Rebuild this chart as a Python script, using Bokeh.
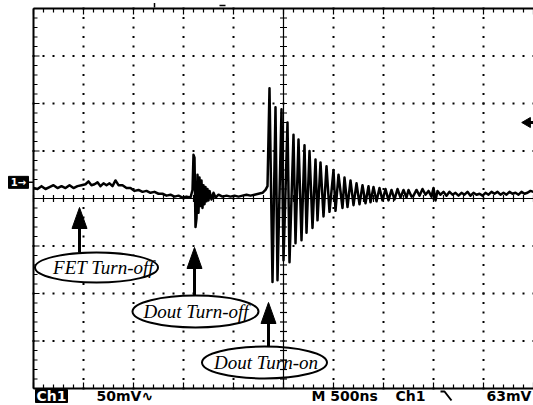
import numpy as np
from bokeh.plotting import figure
from bokeh.models import Range1d, Label
from bokeh.core.properties import value
from bokeh.embed import file_html
from bokeh.resources import INLINE

# Channel 1 capture: 500 ns/div, 50 mV/div, 10 x 8 divisions.
# Times in ns from the left edge of the screen, voltages in mV from screen centre.

# quiet stretch around the FET turn-off
pre_t = [0, 40, 80, 120, 160, 200, 240, 280, 320, 360,
         400, 440, 480, 520, 550, 580, 610, 640, 670, 700,
         730, 760, 790, 820, 850, 890, 930, 970, 1010, 1050,
         1090, 1130, 1170, 1210, 1250, 1290, 1330, 1370, 1410, 1450,
         1490, 1530, 1570]
pre_mv = [11, 10, 13, 10, 12, 14, 11, 13, 11, 14,
          11, 13, 14, 15, 18, 14, 15, 17, 13, 16,
          14, 16, 13, 19, 14, 14, 11, 11, 8, 9,
          7, 8, 6, 7, 5, 5, 3, 4, 2, 3,
          1, 2, 1]

# output diode turn-off spike and its short ringing
off_t = [1590, 1600, 1610, 1620, 1630, 1640, 1650, 1660, 1670, 1680,
         1690, 1700, 1710, 1720, 1730, 1740, 1750, 1760, 1780, 1800,
         1820, 1850, 1890, 1930, 1970, 2010, 2050, 2090, 2130, 2170,
         2210, 2250, 2290, 2320, 2340]
off_mv = [9, 46, 43, -30, -21, 25, -15, 22, -8, 19,
          -10, 14, -6, 12, -3, 10, -2, 8, -1, 6,
          1, 4, 2, 3, 2, 3, 2, 3, 4, 3,
          4, 5, 6, 9, 13]

# output diode turn-on: large decaying ringing
on_t = [2360, 2390, 2420, 2440, 2480, 2500, 2540, 2560, 2600, 2620,
        2650, 2680, 2710, 2730, 2760, 2790, 2820, 2840, 2870, 2900,
        2930, 2960, 3000, 3020, 3050, 3090, 3110, 3140, 3170, 3200,
        3230, 3260, 3290, 3320, 3350, 3370, 3400, 3430, 3460, 3490,
        3520, 3550, 3580, 3610, 3640, 3670, 3700, 3730, 3750, 3780]
on_mv = [116, -88, 96, -86, 94, -65, 80, -67, 67, -47,
         62, -44, 56, -36, 50, -31, 41, -23, 38, -19,
         34, -14, 30, -13, 25, -10, 22, -9, 19, -7,
         16, -6, 14, -5, 13, -4, 12, -3, 11, -2,
         10, -2, 9, -1, 10, 1, 9, 1, 9, 2]

# residual ripple to the end of the record
tail_t = [3800, 3830, 3860, 3890, 3920, 3950, 3980, 4000, 4020, 4040,
          4070, 4100, 4130, 4160, 4190, 4220, 4250, 4280, 4310, 4340,
          4370, 4400, 4430, 4460, 4490, 4520, 4550, 4580, 4610, 4640,
          4670, 4700, 4730, 4760, 4790, 4820, 4850, 4880, 4910, 4940,
          4970, 5000]
tail_mv = [3, 9, 3, 10, 4, 8, 2, 11, -2, 8,
           4, 7, 3, 7, 4, 6, 3, 6, 4, 7,
           3, 6, 4, 5, 3, 6, 4, 7, 5, 7,
           4, 6, 4, 7, 5, 6, 4, 7, 5, 6,
           8, 7]

# switching events marked on the trace
event_names = ["FET Turn-off", "Dout Turn-off", "Dout Turn-on"]
event_t = [460, 1610, 2350]

# scope readout
ch_label = "Ch1"
volts_div = "50mV\u223f"
time_div = "M 500ns"
trig_src = "Ch1"
trig_level = "63mV"
trig_level_mv = 63
ground_mv = 17

# ---- screen geometry -------------------------------------------------------
W, H = 533, 405
LEFT_PX, TOP_PX = 33, 8
NS_PER_DIV, MV_PER_DIV = 500, 50
DIV_X_PX, DIV_Y_PX = 50, 47.5
NS_PX = NS_PER_DIV / DIV_X_PX
MV_PX = MV_PER_DIV / DIV_Y_PX
T_END = 10 * NS_PER_DIV
V_TOP = 4 * MV_PER_DIV

x_lo = -LEFT_PX * NS_PX
x_hi = x_lo + W * NS_PX
y_hi = V_TOP + TOP_PX * MV_PX
y_lo = y_hi - H * MV_PX


def sx(px):
    return x_lo + px * NS_PX


def sy(py):
    return y_hi - py * MV_PX


p = figure(width=W, height=H, x_range=Range1d(x_lo, x_hi), y_range=Range1d(y_lo, y_hi),
           x_axis_type=None, y_axis_type=None, output_backend="svg",
           toolbar_location=None, min_border=0, outline_line_color=None,
           background_fill_color="white", border_fill_color="white")
p.grid.visible = False

ink = "black"

# graticule dots (every 1/5 division along each grid line)
dx, dy = [], []
for k in range(1, 10):
    if k == 5:
        continue
    for v in np.arange(-V_TOP, V_TOP + 1, MV_PER_DIV / 5):
        dx.append(k * NS_PER_DIV)
        dy.append(v)
for k in range(-3, 4):
    if k == 0:
        continue
    for t in np.arange(0, T_END + 1, NS_PER_DIV / 5):
        dx.append(t)
        dy.append(k * MV_PER_DIV)
p.scatter(dx, dy, marker="square", size=2, color=ink, line_width=0)

# screen border with inward ticks
p.line([0, 0], [-V_TOP, V_TOP], line_color=ink, line_width=2)
p.line([0, T_END + 50], [V_TOP, V_TOP], line_color=ink, line_width=2)
p.line([0, T_END + 50], [-V_TOP, -V_TOP], line_color=ink, line_width=2)

tx0, tx1, ty0, ty1 = [], [], [], []
for t in np.arange(0, T_END + 1, NS_PER_DIV / 5):
    ln = 6 if t % NS_PER_DIV == 0 else 4
    tx0 += [t, t]
    tx1 += [t, t]
    ty0 += [-V_TOP, V_TOP]
    ty1 += [-V_TOP + ln * MV_PX, V_TOP - ln * MV_PX]
for v in np.arange(-V_TOP, V_TOP + 1, MV_PER_DIV / 5):
    ln = 6 if v % MV_PER_DIV == 0 else 4
    tx0.append(0)
    tx1.append(ln * NS_PX)
    ty0.append(v)
    ty1.append(v)
p.segment(tx0, ty0, tx1, ty1, line_color=ink, line_width=1.2)

# record / trigger position markers above the top edge
p.segment([sx(154), sx(219)], [sy(2.5), sy(5)], [sx(154), sx(225)], [sy(7), sy(5)],
          line_color=ink, line_width=1.5)

# callout bubbles
bub_dx = [170, 10, -40]
bub_py = [267, 311, 362]
bub_w = [123, 126, 125]
bub_h = [30, 32, 32]
text_dx = [70, 5, 15]
bx = [t + d for t, d in zip(event_t, bub_dx)]
by = [sy(v) for v in bub_py]
p.ellipse(bx, by, width=bub_w, height=bub_h, width_units="screen", height_units="screen",
          fill_color="white", line_color=ink, line_width=2)

# centre rulers
p.line([0, T_END + 50], [0, 0], line_color=ink, line_width=1.2)
p.line([T_END / 2, T_END / 2], [-V_TOP, V_TOP], line_color=ink, line_width=1.2)
rx0, rx1, ry0, ry1 = [], [], [], []
for t in np.arange(0, T_END + 1, NS_PER_DIV / 5):
    rx0.append(t); rx1.append(t)
    ry0.append(-3.5 * MV_PX); ry1.append(3.5 * MV_PX)
for v in np.arange(-V_TOP, V_TOP + 1, MV_PER_DIV / 5):
    rx0.append(T_END / 2 - 35); rx1.append(T_END / 2 + 35)
    ry0.append(v); ry1.append(v)
p.segment(rx0, ry0, rx1, ry1, line_color=ink, line_width=1.2)

# the trace
trace_t = pre_t + off_t + on_t + tail_t
trace_mv = pre_mv + off_mv + on_mv + tail_mv
p.line(trace_t, trace_mv, line_color=ink, line_width=2.5, line_join="round")

# arrows from the bubbles up to the events
tip_py = [207, 247, 302]
head_len_px, head_w_px = 21, 15
px_list, py_list = [], []
sx0, sx1, sy0, sy1 = [], [], [], []
for t, tp, cy, hh in zip(event_t, tip_py, bub_py, bub_h):
    tip = sy(tp)
    base = sy(tp + head_len_px)
    px_list.append([t, t - head_w_px / 2 * NS_PX, t + head_w_px / 2 * NS_PX])
    py_list.append([tip, base, base])
    sx0.append(t); sx1.append(t)
    sy0.append(base); sy1.append(sy(cy - hh / 2))
p.segment(sx0, sy0, sx1, sy1, line_color=ink, line_width=3)
p.patches(px_list, py_list, fill_color=ink, line_color=ink, line_width=1)

p.text([x + d for x, d in zip(bx, text_dx)], by, text=event_names,
       text_font=value("Liberation Serif"), text_font_style="italic",
       text_font_size="19px", text_color=ink, text_align="center", text_baseline="middle")

# ground reference marker
p.quad(left=[sx(8)], right=[sx(28)], top=[ground_mv + 6 * MV_PX], bottom=[ground_mv - 6 * MV_PX],
       fill_color=ink, line_color=ink)
p.add_layout(Label(x=sx(18), y=ground_mv, text="1\u2192", text_color="white",
                   text_font="DejaVu Sans", text_font_style="bold",
                   text_font_size="10px", text_align="center", text_baseline="middle"))
p.line([sx(28), 0], [ground_mv, ground_mv], line_color=ink, line_width=1.5)

# trigger level marker (level is measured from the ground reference)
trig_y = ground_mv + trig_level_mv
p.scatter([sx(527)], [trig_y], marker="triangle", angle=np.pi / 2, size=10, color=ink)
p.line([sx(527), sx(533)], [trig_y, trig_y], line_color=ink, line_width=3)

# readout line
mid_y = sy(395.5)
p.quad(left=[sx(35)], right=[sx(67)], top=[sy(389)], bottom=[sy(402)], fill_color=ink, line_color=ink)
status = [(51, ch_label, "white", "center"), (96, volts_div, ink, "left"),
          (311, time_div, ink, "left"), (395, trig_src, ink, "left"),
          (486, trig_level, ink, "left")]
for xp, txt, col, al in status:
    p.add_layout(Label(x=sx(xp), y=mid_y, text=txt, text_color=col,
                       text_font="DejaVu Sans", text_font_style="bold",
                       text_font_size="14px", text_align=al, text_baseline="middle"))
# falling-edge slope symbol
p.line([sx(440), sx(444), sx(451)], [sy(391), sy(391), sy(400)], line_color=ink, line_width=2)

open("out.html", "w").write(file_html(p, INLINE))
